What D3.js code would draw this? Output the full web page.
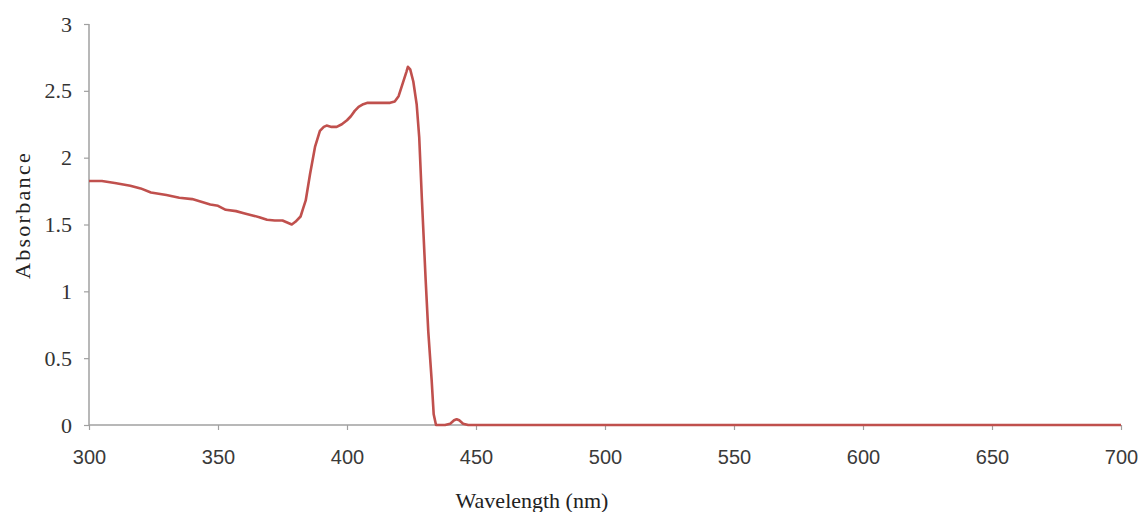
<!DOCTYPE html>
<html>
<head>
<meta charset="utf-8">
<script src="https://cdn.jsdelivr.net/npm/d3@7"></script>
<style>
  html, body { margin: 0; padding: 0; background: #fff; }
  svg { display: block; }
</style>
</head>
<body>
<svg id="chart" width="1141" height="512"></svg>
<script>
// Data
const wavelength = [300, 305, 310, 316, 320, 324, 330, 335, 340, 347, 350, 353, 357, 360, 363, 366, 369, 372, 375, 378.6, 380, 382, 383, 384, 385.7, 387.6, 389.5, 391, 392.1, 394, 396, 398, 400, 401.5, 403, 404.5, 406.3, 408, 410, 413, 416.7, 418.5, 420, 421.5, 423, 423.6, 424.5, 425.7, 427, 428, 429, 430.5, 431.5, 432.8, 433.6, 434.5, 436, 438, 440, 441.5, 442.5, 443.5, 445, 447, 450, 500, 550, 600, 650, 700];
const absorbance = [1.825, 1.825, 1.81, 1.79, 1.77, 1.74, 1.72, 1.70, 1.69, 1.65, 1.64, 1.61, 1.60, 1.585, 1.57, 1.555, 1.535, 1.53, 1.53, 1.50, 1.52, 1.56, 1.62, 1.68, 1.88, 2.08, 2.20, 2.23, 2.24, 2.23, 2.23, 2.25, 2.28, 2.31, 2.35, 2.38, 2.40, 2.41, 2.41, 2.41, 2.41, 2.42, 2.46, 2.55, 2.64, 2.68, 2.66, 2.57, 2.40, 2.15, 1.70, 1.08, 0.70, 0.34, 0.08, 0.0, 0.0, 0.0, 0.01, 0.035, 0.043, 0.035, 0.01, 0.0, 0.0, 0.0, 0.0, 0.0, 0.0, 0.0];
const xTicks = [300, 350, 400, 450, 500, 550, 600, 650, 700];
const yTicks = [0, 0.5, 1, 1.5, 2, 2.5, 3];
const xTitle = "Wavelength (nm)";
const yTitle = "Absorbance";

const svg = d3.select("#chart");
const margin = {left: 89, top: 24};
const x = d3.scaleLinear().domain([300, 700]).range([margin.left, 1121]);
const y = d3.scaleLinear().domain([0, 3]).range([425, margin.top]);

const axisColor = "#a0a0a0";

// Y axis
const yAxis = svg.append("g")
  .attr("transform", `translate(${margin.left},0)`)
  .call(d3.axisLeft(y).tickValues(yTicks).tickSize(5).tickPadding(12)
        .tickFormat(d => String(d)));
yAxis.select(".domain").attr("stroke", axisColor).attr("stroke-width", 1.5)
  .attr("d", `M0,${y(3)}V${y(0)}`);
yAxis.selectAll(".tick line").attr("stroke", axisColor).attr("stroke-width", 1.2);
yAxis.selectAll(".tick text")
  .attr("fill", "#333")
  .style("font-family", "'Liberation Serif', 'Times New Roman', serif")
  .style("font-size", "22px");

// X axis
const xAxis = svg.append("g")
  .attr("transform", `translate(0,${y(0)})`)
  .call(d3.axisBottom(x).tickValues(xTicks).tickSize(5).tickPadding(20)
        .tickFormat(d3.format("d")));
xAxis.select(".domain").attr("stroke", axisColor).attr("stroke-width", 1.5)
  .attr("d", `M${x(300)},0H${x(700)}`);
xAxis.selectAll(".tick line").attr("stroke", axisColor).attr("stroke-width", 1.2);
xAxis.selectAll(".tick text")
  .attr("fill", "#3a3a3a")
  .style("font-family", "'Liberation Sans', Arial, sans-serif")
  .style("font-size", "20px");

// Line
const pts = wavelength.map((w, i) => [w, absorbance[i]]);
const line = d3.line().x(d => x(d[0])).y(d => y(d[1])).curve(d3.curveLinear);
svg.append("path")
  .datum(pts)
  .attr("d", line)
  .attr("fill", "none")
  .attr("stroke", "#c0504d")
  .attr("stroke-width", 2.6)
  .attr("stroke-linejoin", "round");

// Titles
svg.append("text")
  .attr("x", 532).attr("y", 508)
  .attr("text-anchor", "middle")
  .attr("fill", "#222")
  .style("font-family", "'Liberation Serif', 'Times New Roman', serif")
  .style("font-size", "22px")
  .text(xTitle);

svg.append("text")
  .attr("transform", "translate(30,215) rotate(-90)")
  .attr("text-anchor", "middle")
  .attr("fill", "#222")
  .style("font-family", "'Liberation Serif', 'Times New Roman', serif")
  .style("font-size", "22px")
  .style("letter-spacing", "2.3px")
  .text(yTitle);
</script>
</body>
</html>
